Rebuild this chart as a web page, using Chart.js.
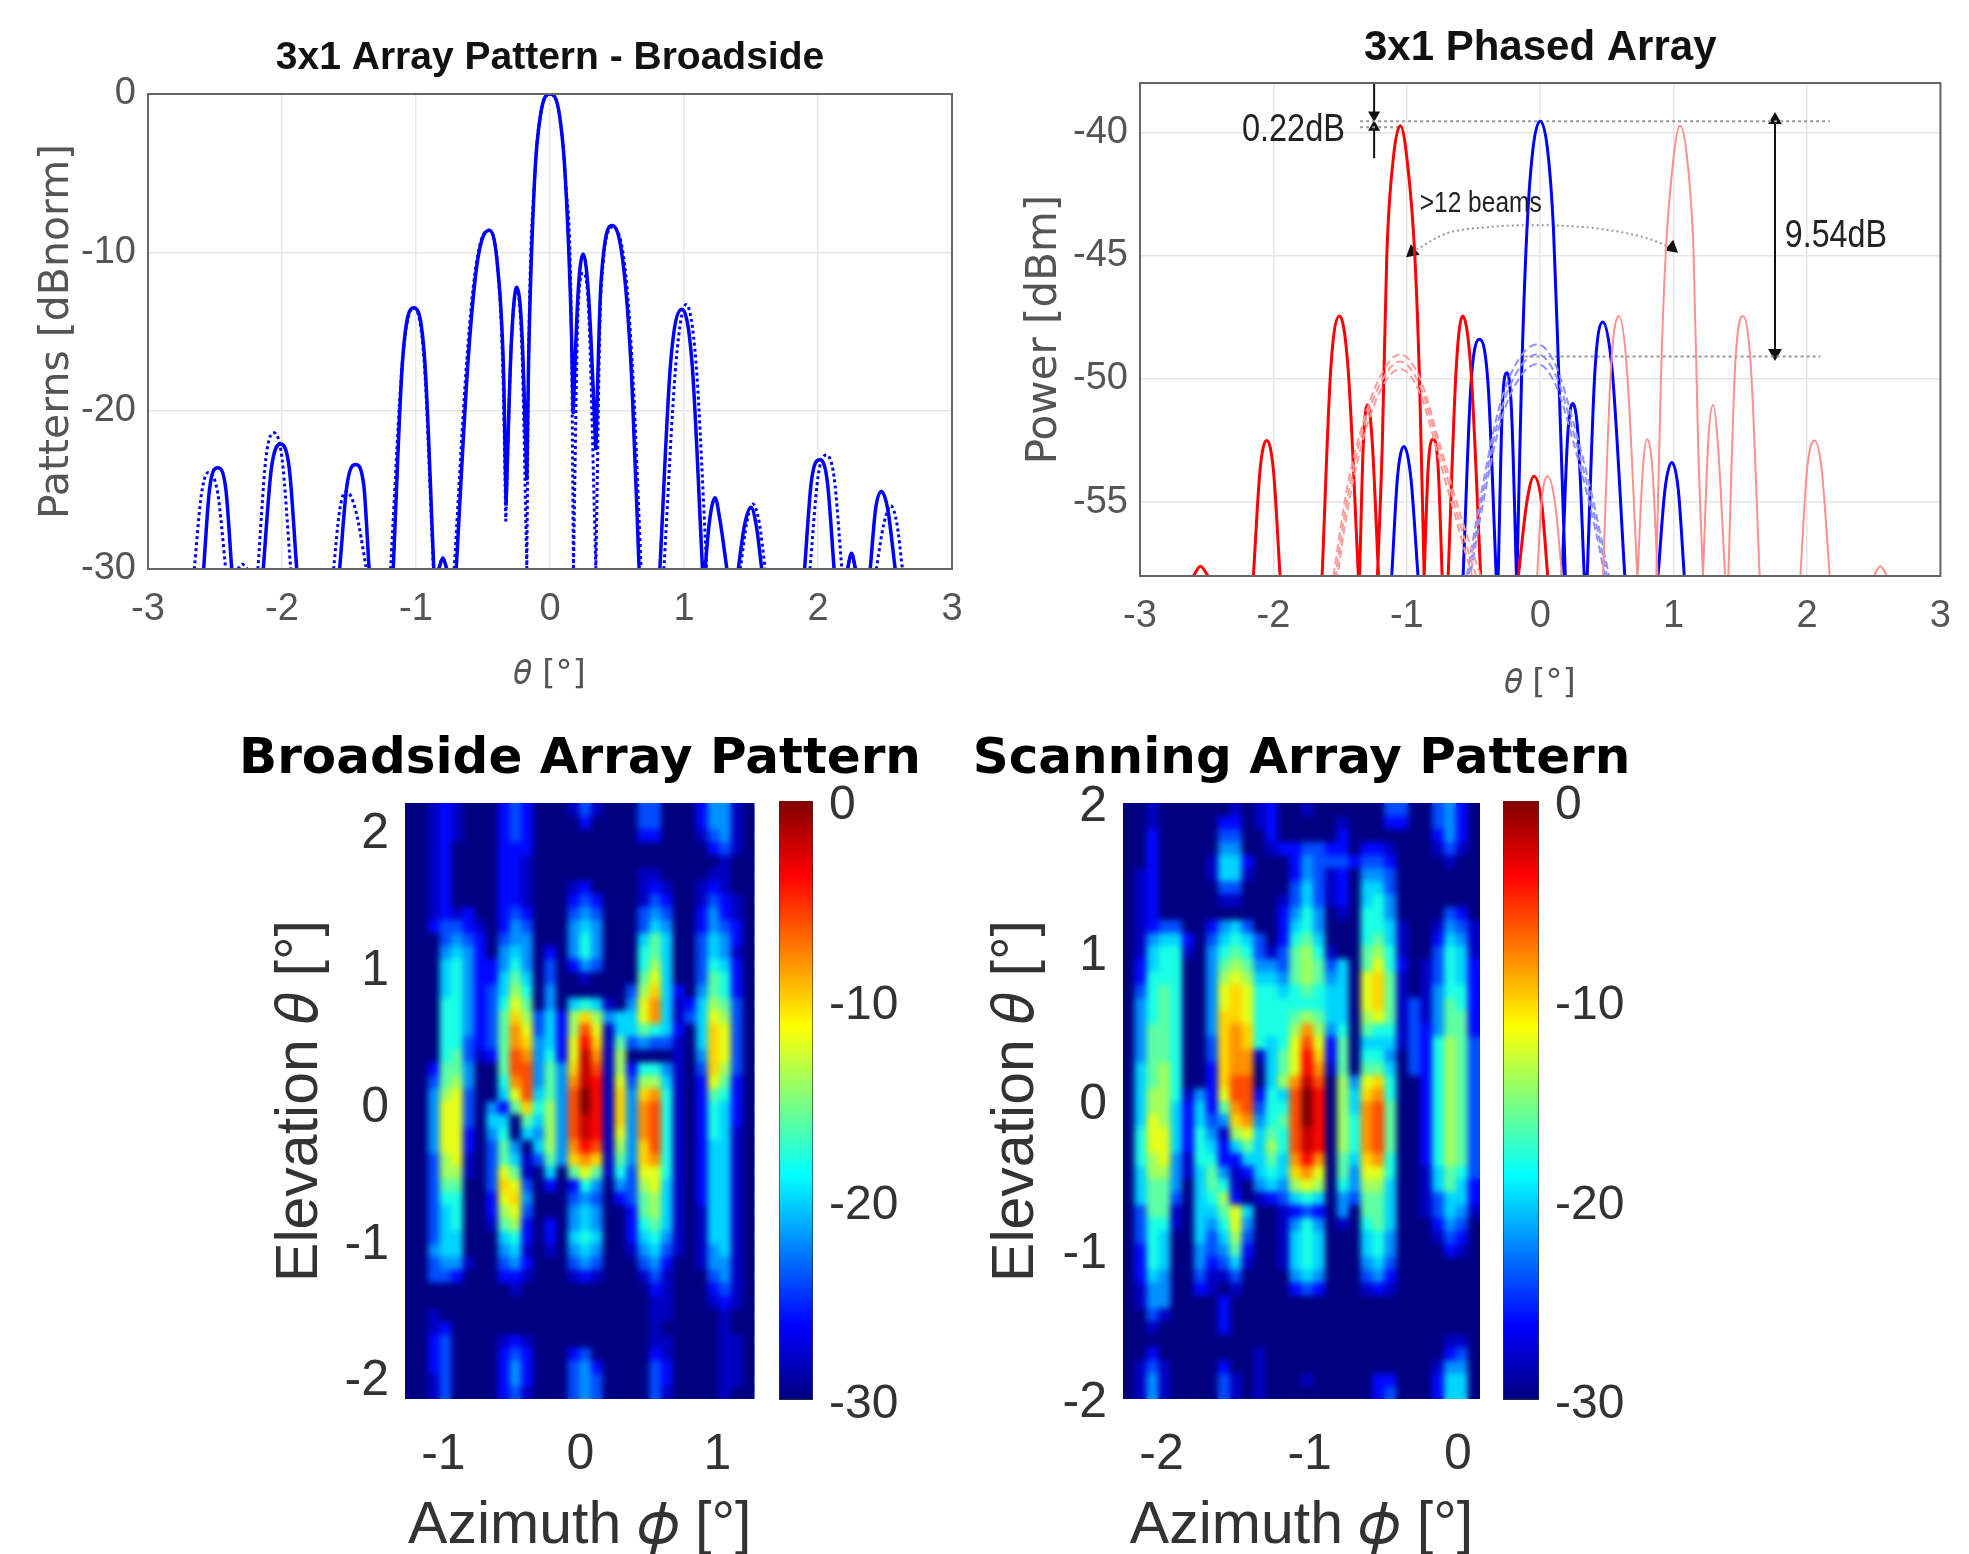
<!DOCTYPE html>
<html>
<head>
<meta charset="utf-8">
<title>3x1 array patterns</title>
<script src="https://cdn.jsdelivr.net/npm/chart.js@4"></script>
<style>
    html, body { margin: 0; background: #fff; overflow: hidden; }
    canvas { position: absolute; }
</style>
</head>
<body>
<script>
// --- top left: broadside cut, lobes are separated by null
const thetaBroadSolid = [-2.585,-2.54,-2.48,-2.42,-2.375,null,-2.14,-2.08,-2.01,-1.945,-1.89,null,-1.57,-1.515,-1.45,-1.39,-1.35,null,-1.17,-1.10,-1.016,-0.935,-0.867,null,-0.83,-0.8,-0.77,null,-0.70,-0.61,-0.54,-0.454,-0.39,-0.345,-0.328,null,-0.328,-0.29,-0.248,-0.21,-0.173,null,-0.173,-0.16,-0.115,-0.07,0,0.07,0.115,0.16,0.173,null,0.173,0.21,0.248,0.29,0.342,null,0.342,0.38,0.468,0.55,0.61,0.665,null,0.82,0.90,0.984,1.06,1.138,null,1.157,1.19,1.232,1.27,1.32,null,1.405,1.45,1.5,1.54,1.58,null,1.90,1.95,2.014,2.07,2.12,null,2.22,2.25,2.28,null,2.39,2.43,2.473,2.52,2.576];
const patternBroadSolid = [-30,-24.9,-23.6,-24.9,-30,null,-30,-23.7,-22.1,-23.7,-30,null,-30,-24.7,-23.4,-24.7,-30,null,-30,-16.8,-13.5,-16.8,-30,null,-30,-29.3,-30,null,-30,-16.7,-10.5,-8.6,-11,-18,-26,null,-26,-16,-12.2,-15,-24.4,null,-24.4,-17,-5.4,-1.3,0,-1.3,-5.4,-15,-20.2,null,-20.2,-12.5,-10.1,-13,-22.5,null,-22.5,-12,-8.3,-11,-18,-30,null,-30,-17,-13.6,-17,-30,null,-30,-27,-25.5,-27,-30,null,-30,-27.3,-26.1,-27.3,-30,null,-30,-24.5,-23.1,-24.5,-30,null,-30,-29,-30,null,-30,-26.2,-25.1,-26.2,-30];
const thetaBroadDotted = [-2.655,-2.6,-2.55,-2.48,-2.42,null,-2.33,-2.295,-2.26,null,-2.18,-2.12,-2.06,-2.0,-1.935,null,-1.615,-1.57,-1.52,-1.45,-1.37,null,-1.19,-1.10,-1.02,-0.94,-0.87,null,-0.83,-0.8,-0.77,null,-0.715,-0.62,-0.55,-0.46,-0.39,-0.35,-0.33,null,-0.33,-0.29,-0.25,-0.21,-0.173,null,-0.173,-0.16,-0.115,-0.07,0,0.07,0.115,0.16,0.175,null,0.175,0.21,0.248,0.29,0.342,null,0.342,0.38,0.47,0.56,0.62,0.68,null,0.85,0.94,1.016,1.09,1.17,null,1.42,1.47,1.513,1.56,1.606,null,1.94,2.0,2.06,2.12,2.178,null,2.22,2.25,2.28,null,2.435,2.49,2.543,2.59,2.63];
const patternBroadDotted = [-30,-25.2,-23.9,-25.2,-30,null,-30,-29.7,-30,null,-30,-23,-21.4,-23,-30,null,-30,-26.3,-25.1,-26.3,-30,null,-30,-16.8,-13.5,-16.8,-30,null,-30,-29.3,-30,null,-30,-16.7,-10.7,-8.6,-11,-18,-27,null,-27,-16,-12.4,-16,-30,null,-30,-17,-5.4,-1.3,0,-1.3,-5.4,-15,-30,null,-30,-13.5,-11.3,-14,-30,null,-30,-12.5,-8.4,-11,-18,-30,null,-30,-17,-13.3,-17,-30,null,-30,-27,-25.9,-27,-30,null,-30,-24.2,-22.8,-24.2,-30,null,-30,-29,-30,null,-30,-27.2,-26,-27.2,-30];

// --- top right: phased array
const thetaRed = [-2.6,-2.547,-2.49,null,-2.15,-2.10,-2.05,-2.0,-1.95,null,-1.635,-1.57,-1.504,-1.44,-1.363,null,-1.354,-1.325,-1.292,-1.26,-1.212,null,-1.22,-1.184,-1.15,-1.10,-1.048,-0.99,-0.94,-0.905,-0.87,null,-0.87,-0.84,-0.803,-0.765,-0.735,null,-0.69,-0.63,-0.582,-0.52,-0.446,null,-0.164,-0.10,-0.047,0.01,0.056];
const powerRed = [-58,-57.6,-58,null,-58,-53.7,-52.5,-53.7,-58,null,-58,-49.6,-47.45,-49.6,-58,null,-58,-52.5,-51.05,-52.5,-58,null,-58,-52.7,-45,-41,-39.73,-41.5,-45,-50,-58,null,-58,-53.6,-52.45,-53.6,-58,null,-58,-49.6,-47.45,-49.6,-58,null,-58,-55,-53.95,-55,-58];
const thetaPink = [-0.023,0.01,0.056,0.11,0.164,null,0.47,0.53,0.59,0.65,0.728,null,0.73,0.77,0.80,0.84,0.88,null,0.87,0.905,0.94,0.99,1.047,1.10,1.15,1.184,1.22,null,1.22,1.26,1.296,1.33,1.386,null,1.41,1.46,1.52,1.58,1.645,null,1.95,2.0,2.057,2.11,2.17,null,2.5,2.55,2.6];
const powerPink = [-58,-55,-53.95,-55,-58,null,-58,-49.6,-47.45,-49.6,-58,null,-58,-53.6,-52.45,-53.6,-58,null,-58,-50,-45,-41.5,-39.73,-41,-45,-52.7,-58,null,-58,-52.5,-51.05,-52.5,-58,null,-58,-49.6,-47.45,-49.6,-58,null,-58,-53.7,-52.5,-53.7,-58,null,-58,-57.6,-58];
const thetaBlue = [-1.113,-1.07,-1.02,-0.97,-0.916,null,-0.578,-0.52,-0.455,-0.39,-0.33,null,-0.315,-0.285,-0.25,-0.215,-0.178,null,-0.174,-0.14,-0.10,-0.055,0,0.055,0.10,0.14,0.188,null,0.164,0.205,0.244,0.285,0.33,null,0.352,0.41,0.47,0.54,0.634,null,0.883,0.935,0.987,1.035,1.08];
const powerBlue = [-58,-54,-52.75,-54,-58,null,-58,-50.3,-48.4,-50.3,-58,null,-58,-51.3,-49.75,-51.3,-58,null,-58,-50,-44,-40.7,-39.55,-40.7,-44,-50,-58,null,-58,-52.4,-51,-52.4,-58,null,-58,-49.7,-47.7,-49.7,-58,null,-58,-54.5,-53.4,-54.5,-58];

const thetaDomeRed = [-1.55,-1.45,-1.34,-1.2,-1.05,-0.9,-0.75,-0.6,-0.446];
const powerDomeRedA = [-58,-54.5,-52,-49.9,-49,-50,-52.7,-55.5,-58];
const powerDomeRedB = [-58.6,-55,-52.3,-50.2,-49.3,-50.3,-53,-55.9,-58.6];
const powerDomeRedC = [-59.2,-55.5,-52.7,-50.5,-49.6,-50.6,-53.4,-56.3,-59.2];
const thetaDomeBlue = [-0.55,-0.42,-0.3,-0.16,-0.02,0.12,0.25,0.4,0.516];
const powerDomeBlueA = [-58,-54,-51,-49.2,-48.6,-49.5,-51.8,-55,-58];
const powerDomeBlueB = [-58.4,-54.4,-51.4,-49.6,-49,-49.9,-52.2,-55.4,-58.4];
const powerDomeBlueC = [-58.8,-54.8,-51.8,-50,-49.4,-50.3,-52.6,-55.8,-58.8];

const thetaArc = [-0.96,-0.7,-0.4,-0.1,0.2,0.5,0.8,0.987];
const powerArc = [-44.86,-44.1,-43.85,-43.77,-43.8,-43.95,-44.3,-44.68];
const noteText = ["0.22dB", ">12 beams", "9.54dB"];
const noteTheta = [-1.85, -0.446, 2.216];
const notePower = [-39.93, -42.9, -44.23];

// --- tick labels
const thetaTicks = [-3, -2, -1, 0, 1, 2, 3];
const patternTicks = [-30, -20, -10, 0];
const powerTicks = [-55, -50, -45, -40];
const azimuthTicksBroad = [-1, 0, 1];
const azimuthTicksScan = [-2, -1, 0];
const elevationTicks = [-2, -1, 0, 1, 2];
const colorTicks = [-30, -20, -10, 0];

// --- bottom: heat maps, one string per elevation row, 0..f stands for -30..0 dB in 2 dB steps
const azimuthBroad = [-1.24,-1.15,-1.07,-0.98,-0.90,-0.81,-0.73,-0.64,-0.56,-0.47,-0.39,-0.30,-0.22,-0.13,-0.05,0.04,0.12,0.21,0.30,0.38,0.47,0.55,0.64,0.72,0.81,0.89,0.98,1.06,1.15,1.23];
const elevationBroad = [2.21,2.115,2.02,1.926,1.831,1.736,1.641,1.546,1.452,1.357,1.262,1.167,1.072,0.978,0.883,0.788,0.693,0.598,0.504,0.409,0.314,0.219,0.124,0.03,-0.065,-0.16,-0.255,-0.35,-0.444,-0.539,-0.634,-0.729,-0.824,-0.918,-1.013,-1.108,-1.203,-1.298,-1.392,-1.487,-1.582,-1.677,-1.772,-1.866,-1.961,-2.056,-2.15];
const levelsBroad = [
    "00121 00023 20001 31000 33000 24410",
    "00121 00023 20000 20000 33000 24410",
    "00121 00023 20000 00000 22000 13410",
    "00120 00022 20000 00000 00000 02310",
    "00120 00022 10000 00000 00000 00100",
    "00120 00022 10000 00000 11000 01100",
    "00120 00022 10001 20000 12100 12100",
    "00120 00022 10002 32000 13200 13210",
    "00121 20023 20003 43000 34300 24210",
    "00233 21024 30004 54000 35400 24320",
    "00034 32034 40004 64000 57500 35420",
    "00045 42045 40204 64000 67500 35410",
    "00056 42246 40302 43000 68500 36520",
    "00056 42257 50300 10000 79500 37620",
    "00056 42358 60400 00003 8a520 47620",
    "00066 42369 70405 65104 9b512 58730",
    "00066 4237a 83528 a8455 9b513 59830",
    "00066 4237b 93528 c9155 76520 5a930",
    "00066 3237b a4529 da173 43310 5a930",
    "00067 3127c b4629 eb180 00010 4a930",
    "00277 4007c c474a ec182 66410 3a830",
    "00378 4006b c474b ed193 88510 29720",
    "00489 30059 c574c fd1a4 ab610 27620",
    "00499 30427 a684c fd1a4 bc610 26520",
    "00499 30550 7584c ed1a4 bc610 26520",
    "00499 20460 5484c ed194 bc610 26510",
    "00499 20374 0584b dc184 ac610 25510",
    "00389 10375 1374a ba174 ab610 25510",
    "00388 10397 10507 97163 99610 25510",
    "00377 003a9 30202 64043 89510 25510",
    "00366 0029a 40003 43023 78510 25510",
    "00356 00289 30004 54002 78510 15510",
    "00356 00178 20204 54002 67510 15510",
    "00355 00056 20205 65002 56410 15510",
    "00455 00045 10104 54001 45310 14510",
    "00344 10034 20003 43000 34200 14410",
    "00332 00022 10001 21000 13100 03410",
    "00000 00001 00000 00000 02100 02310",
    "00000 00000 00000 00000 01100 01210",
    "00100 00000 00000 00000 01100 00100",
    "00120 00000 00000 00000 01000 00100",
    "00230 00012 10000 00000 01100 00110",
    "00230 00023 20002 30000 02100 00110",
    "00230 00024 20003 42000 03200 00110",
    "00130 00024 20003 43000 03200 00110",
    "00130 00023 10003 43000 03100 00100"
];

const azimuthScan = [-2.21,-2.13,-2.05,-1.97,-1.89,-1.81,-1.73,-1.65,-1.57,-1.49,-1.41,-1.33,-1.25,-1.17,-1.09,-1.01,-0.93,-0.85,-0.77,-0.69,-0.61,-0.53,-0.45,-0.37,-0.29,-0.21,-0.13,-0.05,0.03,0.11];
const elevationScan = [2.01,1.923,1.836,1.749,1.662,1.575,1.488,1.401,1.314,1.227,1.14,1.053,0.966,0.88,0.793,0.706,0.619,0.532,0.445,0.358,0.271,0.184,0.097,0.01,-0.077,-0.164,-0.251,-0.337,-0.424,-0.511,-0.598,-0.685,-0.772,-0.859,-0.946,-1.033,-1.12,-1.207,-1.294,-1.38,-1.467,-1.554,-1.641,-1.728,-1.815,-1.902,-1.99];
const levelsScan = [
    "00100 00001 01200 10000 00330 03420",
    "00100 00022 01200 00010 00220 03420",
    "00200 00033 00200 00020 00000 02420",
    "00200 00044 00122 33220 22100 01310",
    "00200 00155 20002 43332 33200 00100",
    "01200 00155 10002 43120 44300 00000",
    "01200 00033 00003 53120 55300 00000",
    "01200 00011 00013 53120 56400 00000",
    "01200 00000 00024 64010 66400 00320",
    "01233 00245 30025 64000 66510 01431",
    "01455 20356 53026 75000 67510 02541",
    "01566 10467 63137 86100 78610 03651",
    "02566 00478 74437 87350 79620 13652",
    "02666 00489 85547 87450 9a710 13652",
    "03676 0049a 96656 76550 9a710 14662",
    "04676 0049a 96666 66550 9a713 14762",
    "04676 004aa 96667 87550 89713 14772",
    "04776 004ab a6668 b8460 76613 24772",
    "04776 003ab a6569 c9270 55513 26873",
    "04776 003ab b1579 da270 66403 26873",
    "05786 002ab b0579 db170 77503 26873",
    "05786 002ac c058b ec084 9a600 26873",
    "05886 1429c c265c fd085 ab600 26873",
    "05885 2527b c366c fd085 bc700 26873",
    "05985 2534a b467c fd086 bc700 26873",
    "06995 26418 9576c ed086 bc700 26873",
    "06995 26525 7586c ed086 bc700 26873",
    "06894 16622 5575b db075 ab600 26873",
    "05884 15741 2565a b9074 99600 15763",
    "05774 05761 04548 98064 88500 15752",
    "05773 05682 01235 65043 77500 13552",
    "03771 05579 50012 32040 77500 13541",
    "03661 05469 40014 64010 67500 02430",
    "03650 05358 30015 65000 56400 01320",
    "02650 04347 20015 65000 56400 00210",
    "02650 04235 10015 65000 45300 00000",
    "02540 03113 00004 54000 34200 00000",
    "01440 02101 00002 32000 12100 00000",
    "01440 00020 00000 00000 00000 00000",
    "00310 00020 00000 00000 00000 00000",
    "00100 00020 00000 00000 00000 00000",
    "00000 00000 00000 00000 00000 00110",
    "00200 00000 01000 00000 00000 00230",
    "01310 00020 01000 00000 00000 01440",
    "01410 00031 01000 10000 02200 02550",
    "01410 00031 01000 00000 02300 02550"
];

const jetStops = ["#00007f","#0000ff","#007fff","#00ffff","#7fff7f","#ffff00","#ff7f00","#ff0000","#7f0000"];

function jet(db){
    const t = (db + 30) / 30;
    const part = c => Math.round(255 * Math.min(1, Math.max(0, 1.5 - Math.abs(4 * t - c))));
    return `rgb(${part(3)},${part(2)},${part(1)})`;
}

function addCanvas(left, top, width, height){
    const canvas = document.createElement("canvas");
    canvas.width = width;
    canvas.height = height;
    canvas.style.left = left + "px";
    canvas.style.top = top + "px";
    document.body.appendChild(canvas);
    return canvas;
}

function xy(xs, ys){
    return xs.map((x, i) => ({x: x, y: ys[i]}));
}

function curve(xs, ys, color, width, dash){
    return {
        data: xy(xs, ys),
        borderColor: color,
        borderWidth: width,
        borderDash: dash || [],
        pointRadius: 0,
        cubicInterpolationMode: "monotone"
    };
}

function arrow(xs, ys, radius, rotation){
    return {
        data: xy(xs, ys),
        borderColor: "#111",
        backgroundColor: "#111",
        borderWidth: 2,
        pointStyle: "triangle",
        pointRadius: radius,
        pointRotation: rotation
    };
}

function fixedTicks(values){
    return s => { s.ticks = values.map(v => ({value: v})); };
}

const framePlugin = {
    id: "frame",
    afterDraw(chart){
        const a = chart.chartArea;
        chart.ctx.save();
        chart.ctx.strokeStyle = "#666";
        chart.ctx.lineWidth = 2;
        chart.ctx.strokeRect(a.left, a.top, a.width, a.height);
        chart.ctx.restore();
    }
};

const noteWidth = [103, 122, 102];
const notesPlugin = {
    id: "notes",
    afterDatasetsDraw(chart){
        const ctx = chart.ctx;
        ctx.save();
        ctx.textAlign = "center";
        ctx.textBaseline = "middle";
        ctx.fillStyle = "#222";
        noteText.forEach((text, i) => {
            ctx.font = (i == 1 ? "30" : "38") + "px 'Liberation Sans'";
            ctx.fillText(text, chart.scales.x.getPixelForValue(noteTheta[i]), chart.scales.y.getPixelForValue(notePower[i]), noteWidth[i]);
        });
        ctx.restore();
    }
};

// soften the cell edges a little, the source picture is an interpolated jpeg
const softenPlugin = {
    id: "soften",
    afterDatasetsDraw(chart){
        const a = chart.chartArea;
        const ctx = chart.ctx;
        ctx.save();
        ctx.beginPath();
        ctx.rect(a.left, a.top, a.width, a.height);
        ctx.clip();
        ctx.filter = "blur(3px)";
        ctx.drawImage(chart.canvas, a.left, a.top, a.width, a.height, a.left, a.top, a.width, a.height);
        ctx.restore();
    }
};

// top row line plot, box is the plot area in page pixels, cv the canvas on the page
function linePlot(cv, box, cfg){
    new Chart(addCanvas(cv.left, cv.top, cv.width, cv.height), {
        type: "line",
        data: {datasets: cfg.datasets},
        plugins: cfg.plugins,
        options: {
            responsive: false,
            animation: false,
            events: [],
            layout: {padding: {right: cv.left + cv.width - box.right}},
            plugins: {
                legend: {display: false},
                tooltip: {enabled: false},
                title: {
                    display: true,
                    text: cfg.title,
                    color: "#111",
                    fullSize: false,
                    font: {family: "'Liberation Sans'", size: cfg.titleSize, weight: "bold"},
                    padding: {top: cfg.titleTop, bottom: box.top - cv.top - cfg.titleTop - cfg.titleSize * 1.2}
                }
            },
            scales: {
                x: {
                    type: "linear",
                    min: -3,
                    max: 3,
                    afterFit(s){ s.height = cv.top + cv.height - box.bottom; },
                    afterBuildTicks: fixedTicks(thetaTicks),
                    grid: {color: "#e6e6e6", lineWidth: 1.5, drawTicks: false},
                    border: {display: false},
                    ticks: {padding: 18, color: "#555", maxRotation: 0, callback: v => v, font: {family: "'Liberation Sans'", size: 38}},
                    title: {display: true, text: "𝜃 [°]", color: "#555", padding: 0, font: {family: "'DejaVu Sans'", size: 34}}
                },
                y: {
                    min: cfg.yMin,
                    max: cfg.yMax,
                    afterFit(s){ s.width = box.left - cv.left; },
                    afterBuildTicks: fixedTicks(cfg.yTicks),
                    grid: {color: "#e6e6e6", lineWidth: 1.5, drawTicks: false},
                    border: {display: false},
                    ticks: {padding: 12, color: "#555", callback: v => v, font: {family: "'Liberation Sans'", size: 38}},
                    title: {display: true, text: cfg.yTitle, color: "#555", padding: 0, font: {family: "'DejaVu Sans'", size: cfg.yTitleSize}}
                }
            }
        }
    });
}

// bottom row heat map: one bar dataset per elevation row, floating from edge to edge
function heatMap(cv, box, cfg){
    const cells = cfg.levels.map((row, r) => {
        const values = row.replace(/ /g, "").split("").map(ch => -30 + 2 * parseInt(ch, 16));
        return {
            data: values.map(() => [cfg.elevation[r + 1], cfg.elevation[r]]),
            backgroundColor: values.map(jet),
            grouped: false,
            barPercentage: 1,
            categoryPercentage: 1
        };
    });
    new Chart(addCanvas(cv.left, cv.top, cv.width, cv.height), {
        type: "bar",
        data: {labels: cfg.azimuth, datasets: cells},
        plugins: [softenPlugin],
        options: {
            responsive: false,
            animation: false,
            events: [],
            plugins: {
                legend: {display: false},
                tooltip: {enabled: false},
                title: {
                    display: true,
                    text: cfg.title,
                    color: "#000",
                    font: {family: "'DejaVu Sans'", size: 50, weight: "bold"},
                    padding: {top: 5, bottom: box.top - cv.top - 5 - 50 * 1.2}
                }
            },
            scales: {
                x: {display: false},
                xTicks: {
                    type: "linear",
                    position: "bottom",
                    offset: false,
                    min: cfg.xMin,
                    max: cfg.xMax,
                    afterFit(s){ s.height = cv.top + cv.height - box.bottom; },
                    afterBuildTicks: fixedTicks(cfg.xTicks),
                    grid: {display: false},
                    border: {display: false},
                    ticks: {padding: 18, color: "#333", maxRotation: 0, callback: v => v, font: {family: "'Liberation Sans'", size: 50}},
                    title: {display: true, text: "Azimuth 𝜙 [°]", color: "#333", padding: 0, font: {family: "'Liberation Sans'", size: 59}}
                },
                y: {
                    min: cfg.elevation[cfg.elevation.length - 1],
                    max: cfg.elevation[0],
                    afterFit(s){ s.width = box.left - cv.left; },
                    afterBuildTicks: fixedTicks(elevationTicks),
                    grid: {display: false},
                    border: {display: false},
                    ticks: {padding: 8, labelOffset: 3, color: "#333", callback: v => v, font: {family: "'Liberation Sans'", size: 50}},
                    title: {display: true, text: "Elevation 𝜃 [°]", color: "#333", padding: {top: cfg.yTitleInset, bottom: 0}, font: {family: "'Liberation Sans'", size: 59}}
                },
                // empty axis, keeps the plot off the right edge so the title stays centred on it
                yRight: {
                    position: "right",
                    afterFit(s){ s.width = cv.left + cv.width - box.right; },
                    grid: {display: false},
                    border: {display: false},
                    ticks: {display: false}
                }
            }
        }
    });
}

function colorBar(left, right){
    const top = 760, bottom = 1445;
    new Chart(addCanvas(left, top, 200, bottom - top), {
        type: "bar",
        data: {
            labels: [""],
            datasets: [{
                data: [[-30, 0]],
                barPercentage: 1,
                categoryPercentage: 1,
                borderColor: "#333",
                borderWidth: 1,
                backgroundColor(ctx){
                    const a = ctx.chart.chartArea;
                    if(!a){ return jetStops[0]; }
                    const g = ctx.chart.ctx.createLinearGradient(0, a.bottom, 0, a.top);
                    jetStops.forEach((c, i) => g.addColorStop(i / (jetStops.length - 1), c));
                    return g;
                }
            }]
        },
        options: {
            responsive: false,
            animation: false,
            events: [],
            layout: {padding: {top: 801 - top, bottom: bottom - 1400}},
            plugins: {legend: {display: false}, tooltip: {enabled: false}},
            scales: {
                x: {display: false},
                y: {
                    position: "right",
                    min: -30,
                    max: 0,
                    afterFit(s){ s.width = 200 - (right - left); },
                    afterBuildTicks: fixedTicks(colorTicks),
                    grid: {display: false},
                    border: {display: false},
                    ticks: {padding: 8, labelOffset: 5, color: "#333", callback: v => v, font: {family: "'Liberation Sans'", size: 48}}
                }
            }
        }
    });
}

linePlot({left: 33, top: 0, width: 962, height: 696}, {left: 148, top: 94, right: 952, bottom: 569}, {
    title: "3x1 Array Pattern - Broadside",
    titleTop: 35,
    titleSize: 39,
    yTitle: "Patterns [dBnorm]",
    yTitleSize: 41,
    yMin: -30,
    yMax: 0,
    yTicks: patternTicks,
    plugins: [framePlugin],
    datasets: [
        curve(thetaBroadDotted, patternBroadDotted, "#0000ff", 3, [3, 3]),
        curve(thetaBroadSolid, patternBroadSolid, "#0000ff", 3.5)
    ]
});

linePlot({left: 1020, top: 0, width: 949, height: 705}, {left: 1140, top: 83, right: 1942, bottom: 576}, {
    title: "3x1 Phased Array",
    titleTop: 23,
    titleSize: 42,
    yTitle: "Power [dBm]",
    yTitleSize: 42,
    yMin: -58,
    yMax: -38,
    yTicks: powerTicks,
    plugins: [framePlugin, notesPlugin],
    datasets: [
        curve(thetaPink, powerPink, "#ff8f8f", 2),
        curve(thetaDomeRed, powerDomeRedA, "#ff9a9a", 2, [8, 4]),
        curve(thetaDomeRed, powerDomeRedB, "#ff9a9a", 2, [8, 4]),
        curve(thetaDomeRed, powerDomeRedC, "#ff9a9a", 2, [8, 4]),
        curve(thetaDomeBlue, powerDomeBlueA, "#8f8fff", 2, [8, 4]),
        curve(thetaDomeBlue, powerDomeBlueB, "#8f8fff", 2, [8, 4]),
        curve(thetaDomeBlue, powerDomeBlueC, "#8f8fff", 2, [8, 4]),
        curve(thetaRed, powerRed, "#ff0000", 3),
        curve(thetaBlue, powerBlue, "#0000ff", 3),
        curve([-1.35, 2.17], [-39.55, -39.55], "#999", 2, [3, 3]),
        curve([-1.35, -1.05], [-39.8, -39.8], "#999", 2, [3, 3]),
        curve([-0.117, 2.1], [-49.1, -49.1], "#999", 2, [3, 3]),
        Object.assign(curve(thetaArc, powerArc, "#999", 2, [2, 3]), {
            pointStyle: "triangle",
            backgroundColor: "#111",
            pointBorderColor: "#111",
            pointRadius: [6, 0, 0, 0, 0, 0, 0, 6],
            pointRotation: [-10, 0, 0, 0, 0, 0, 0, 10]
        }),
        arrow([1.76, 1.76], [-39.5, -48.95], 6, [0, 180]),
        arrow([-1.245, -1.245], [-37.98, -39.3], [0, 5], 180),
        arrow([-1.245, -1.245], [-41.05, -39.8], [0, 5], 0)
    ]
});

heatMap({left: 230, top: 725, width: 700, height: 837}, {left: 405, top: 803, right: 754.5, bottom: 1399}, {
    title: "Broadside Array Pattern",
    yTitleInset: 35,
    azimuth: azimuthBroad,
    elevation: elevationBroad,
    levels: levelsBroad,
    xTicks: azimuthTicksBroad,
    xMin: -1.28,
    xMax: 1.27
});

heatMap({left: 950, top: 725, width: 703, height: 837}, {left: 1123, top: 803, right: 1480, bottom: 1399}, {
    title: "Scanning Array Pattern",
    yTitleInset: 31,
    azimuth: azimuthScan,
    elevation: elevationScan,
    levels: levelsScan,
    xTicks: azimuthTicksScan,
    xMin: -2.26,
    xMax: 0.15
});

colorBar(779, 813);
colorBar(1503, 1539);
</script>
</body>
</html>
